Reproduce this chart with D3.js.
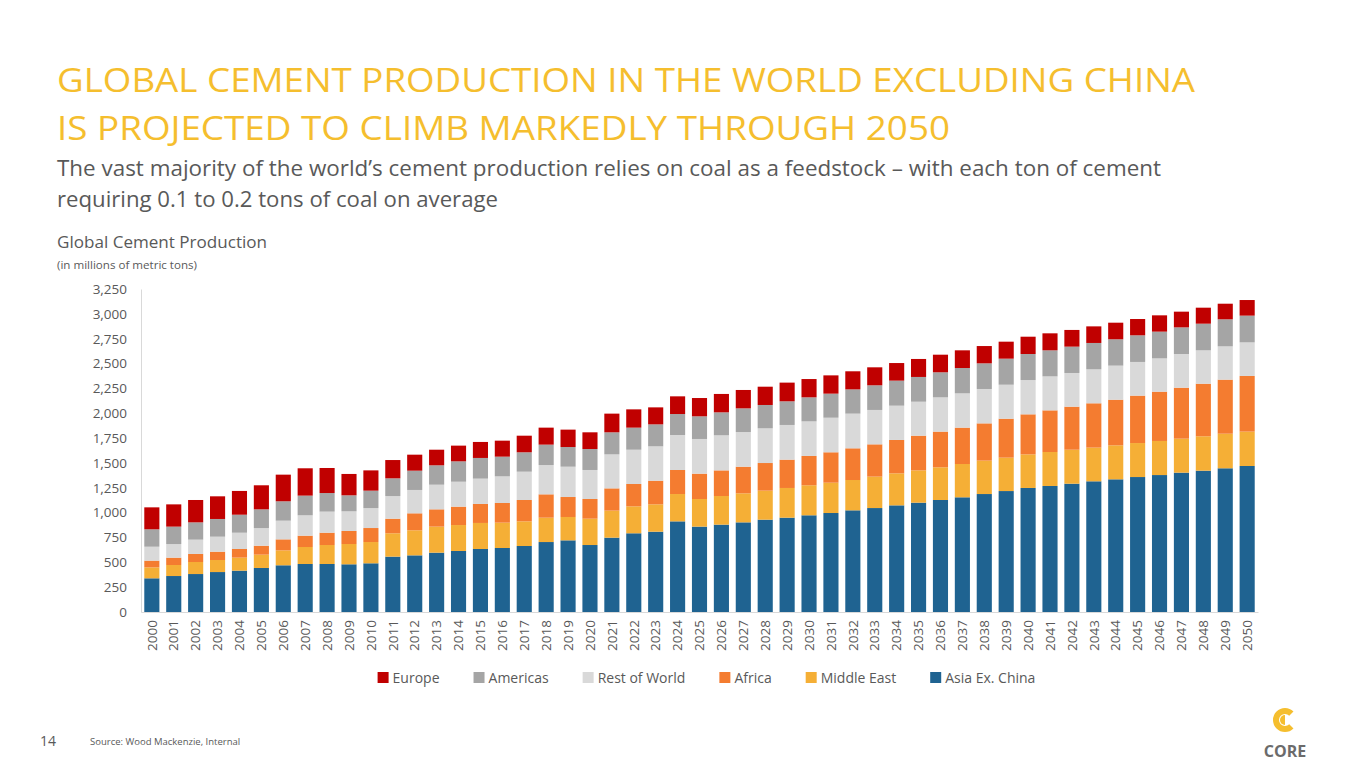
<!DOCTYPE html>
<html><head><meta charset="utf-8">
<script src="https://cdn.jsdelivr.net/npm/d3@7"></script>
<style>body{margin:0;background:#fff;font-family:"Open Sans","Noto Sans",sans-serif}</style>
</head><body><svg id="c" width="1365" height="768" style="font-family:'Open Sans','Noto Sans',sans-serif"></svg>
<script>
const years = d3.range(2000, 2051).map(String);
const seriesNames = ["Asia Ex. China","Middle East","Africa","Rest of World","Americas","Europe"];
const colors = ["#1F6391","#F5AF36","#F47C30","#D9D9D9","#A5A5A5","#C00000"];
const asia = [339,362,382,402,416,443,470,483,483,480,490,557,570,597,614,634,644,664,704,721,674,748,792,808,912,859,879,902,929,949,973,996,1023,1046,1073,1100,1127,1154,1187,1217,1248,1268,1291,1315,1335,1358,1378,1402,1422,1446,1469];
const middleEast = [110,111,121,121,131,134,150,171,191,204,214,235,252,262,261,262,255,248,245,235,265,272,271,275,275,278,288,292,292,299,302,305,305,316,322,325,329,335,336,336,338,342,342,339,342,342,343,342,346,348,346];
const africa = [68,74,81,84,87,90,111,114,124,131,141,147,171,174,185,191,198,215,235,201,198,224,225,238,242,255,258,268,278,285,295,306,319,325,336,349,359,366,375,392,403,419,433,446,459,477,496,513,529,544,560];
const restOfWorld = [140,137,144,151,164,178,188,205,212,198,201,228,235,248,251,255,268,285,295,305,292,342,345,346,352,349,353,349,349,349,348,348,349,346,345,342,345,345,346,342,345,342,339,342,343,339,335,339,336,335,338];
const americas = [175,175,174,178,181,188,195,198,187,161,175,178,194,195,205,208,198,195,205,198,211,222,222,221,211,228,231,238,235,238,242,242,244,248,252,249,252,255,258,262,262,262,265,265,265,268,269,268,268,272,269];
const europe = [221,224,225,228,239,242,268,275,252,215,204,184,161,157,158,161,161,167,171,175,168,188,184,171,178,184,185,185,184,188,184,184,182,181,177,181,177,178,174,171,174,171,168,167,167,164,164,158,161,157,157];
const yTicks = [0,250,500,750,1000,1250,1500,1750,2000,2250,2500,2750,3000,3250];
const legendOrder = ["Europe","Americas","Rest of World","Africa","Middle East","Asia Ex. China"];

const svg = d3.select("#c");
const gold = "#F5BE2E", grey = "#595959";
function txt(x,y,size,fill,s,len){const t=svg.append("text").attr("x",x).attr("y",y).attr("fill",fill).attr("font-size",size).text(s);if(len)t.attr("textLength",len).attr("lengthAdjust","spacingAndGlyphs");return t;}
txt(57,92,33,gold,"GLOBAL CEMENT PRODUCTION IN THE WORLD EXCLUDING CHINA",1138);
txt(57,140,33,gold,"IS PROJECTED TO CLIMB MARKEDLY THROUGH 2050",893);
txt(57,176,21,grey,"The vast majority of the world’s cement production relies on coal as a feedstock – with each ton of cement",1104);
txt(57,207,21,grey,"requiring 0.1 to 0.2 tons of coal on average",441);
txt(57,248,16,grey,"Global Cement Production",210);
txt(57,269,10,grey,"(in millions of metric tons)",140);

const x = d3.scaleBand().domain(years).range([141,1258]).paddingInner(0.31).paddingOuter(0.15);
const y = d3.scaleLinear().domain([0,3250]).range([612,289]);
const data = years.map((yr,i)=>({year:yr,"Asia Ex. China":asia[i],"Middle East":middleEast[i],"Africa":africa[i],"Rest of World":restOfWorld[i],"Americas":americas[i],"Europe":europe[i]}));
const stack = d3.stack().keys(seriesNames)(data);
const col = d3.scaleOrdinal().domain(seriesNames).range(colors);

svg.append("g").selectAll("g").data(stack).join("g").attr("fill",d=>col(d.key))
 .selectAll("rect").data(d=>d).join("rect")
 .attr("x",d=>x(d.data.year)).attr("width",x.bandwidth())
 .attr("y",d=>y(d[1])).attr("height",d=>y(d[0])-y(d[1]));

const ya = svg.append("g").attr("transform","translate(141,0)").call(d3.axisLeft(y).tickValues(yTicks).tickFormat(d3.format(",")).tickSize(0).tickPadding(14));
ya.select(".domain").attr("stroke","#D9D9D9");
ya.selectAll("text").attr("fill",grey).attr("font-size",13.5).attr("font-family","'Open Sans',sans-serif");
const xa = svg.append("g").attr("transform","translate(0,612)").call(d3.axisBottom(x).tickSize(0));
xa.select(".domain").attr("stroke","#D9D9D9");
xa.selectAll("text").attr("fill",grey).attr("font-size",13.5).attr("font-family","'Open Sans',sans-serif")
 .attr("transform","rotate(-90)").attr("text-anchor","end").attr("dx","-8").attr("dy","0.35em").attr("x",0).attr("y",0);

const lg = svg.append("g");
const items=[];
legendOrder.forEach(n=>{const t=lg.append("text").attr("font-size",14).attr("fill",grey).attr("y",683).text(n);items.push({n,t,w:t.node().getComputedTextLength()});});
const gap=33;
const total = d3.sum(items,d=>d.w+16)+(items.length-1)*gap;
let cx = 707 - total/2;
items.forEach(it=>{lg.append("rect").attr("x",cx).attr("y",672).attr("width",11).attr("height",11).attr("fill",col(it.n));it.t.attr("x",cx+15);cx+=it.w+16+gap;});

txt(40,746,14,grey,"14");
txt(90,745,9.5,grey,"Source: Wood Mackenzie, Internal");
const lgo = svg.append("g").attr("transform","translate(1285,720)");
lgo.append("path").attr("d",d3.arc()({innerRadius:6,outerRadius:12,startAngle:Math.PI*1.0,endAngle:Math.PI*2.0})).attr("fill",gold);
lgo.append("path").attr("d",d3.arc()({innerRadius:0,outerRadius:5,startAngle:Math.PI*1.0,endAngle:Math.PI*2.0})).attr("fill",gold);
lgo.append("path").attr("d",d3.arc()({innerRadius:6,outerRadius:12,startAngle:Math.PI*0.0,endAngle:Math.PI*0.25})).attr("fill",gold);
lgo.append("path").attr("d",d3.arc()({innerRadius:6,outerRadius:12,startAngle:Math.PI*0.75,endAngle:Math.PI*1.0})).attr("fill",gold);
lgo.append("text").attr("x",0).attr("y",37).attr("text-anchor","middle").attr("font-size",16).attr("font-weight","bold").attr("fill","#6b6b6b").text("CORE");
</script></body></html>
